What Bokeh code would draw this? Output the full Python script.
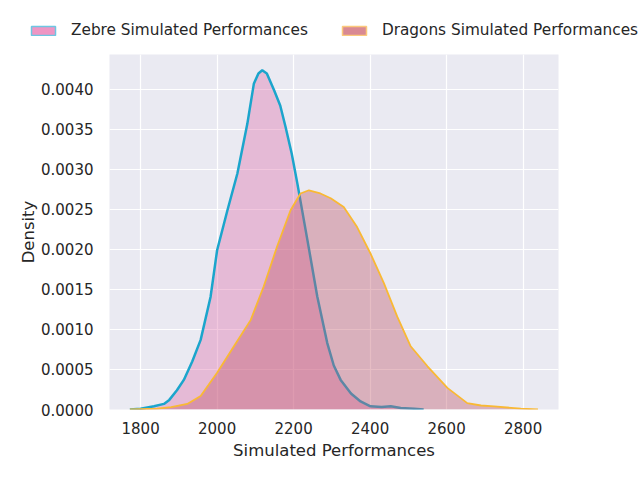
from bokeh.plotting import figure
from bokeh.layouts import column
from bokeh.models import Range1d, Legend, LegendItem, FixedTicker, ColumnDataSource
from bokeh.embed import file_html
from bokeh.resources import INLINE

# ---- data ----
zebre_x = [1772, 1800, 1835, 1861, 1875, 1895, 1913, 1935, 1957, 1983, 2000, 2027, 2053,
           2079, 2096, 2108, 2118, 2130, 2149, 2165, 2179, 2195, 2210, 2236, 2262, 2288,
           2305, 2323, 2350, 2375, 2401, 2430, 2454, 2480, 2515, 2540]
zebre_y = [0.0, 0.00001, 0.00004, 0.00007, 0.00012, 0.00024, 0.00037, 0.0006, 0.00087,
           0.00141, 0.00199, 0.00249, 0.00295, 0.00357, 0.00407, 0.0042, 0.00424, 0.0042,
           0.00399, 0.0038, 0.00353, 0.0032, 0.00282, 0.00212, 0.00141, 0.00083, 0.00055,
           0.00037, 0.0002, 0.0001, 0.00004, 0.00003, 0.00004, 0.00002, 0.00001, 0.0]

dragons_x = [1772, 1843, 1880, 1922, 1957, 2000, 2044, 2088, 2122, 2157, 2192, 2218, 2240,
             2270, 2297, 2331, 2366, 2401, 2436, 2471, 2506, 2550, 2602, 2654, 2690, 2724,
             2794, 2839]
dragons_y = [0.0, 0.00001, 0.00003, 0.00007, 0.00017, 0.00046, 0.00079, 0.00112, 0.00154,
             0.00204, 0.00249, 0.0027, 0.00274, 0.0027, 0.00264, 0.00253, 0.00228, 0.00195,
             0.00158, 0.00116, 0.00079, 0.00054, 0.00027, 0.00008, 0.00005, 0.00004,
             0.00001, 0.0]

series_names = ["Zebre Simulated Performances", "Dragons Simulated Performances"]
x_ticks = [1800, 2000, 2200, 2400, 2600, 2800]
y_ticks = [0.0, 0.0005, 0.001, 0.0015, 0.002, 0.0025, 0.003, 0.0035, 0.004]

FONT = "DejaVu Sans"
TXT = "#262626"

# ---- main plot ----
p = figure(width=640, height=410, output_backend="svg", toolbar_location=None,
           x_range=Range1d(1718.7, 2892.5), y_range=Range1d(0, 0.004437),
           min_border_left=109, min_border_right=82, min_border_top=0,
           min_border_bottom=55)
p.background_fill_color = "#EAEAF2"
p.border_fill_color = "white"
p.outline_line_color = None

p.xgrid.grid_line_color = "white"
p.ygrid.grid_line_color = "white"
p.xgrid.grid_line_width = 1.2
p.ygrid.grid_line_width = 1.2

for ax in (p.xaxis[0], p.yaxis[0]):
    ax.axis_line_color = None
    ax.major_tick_line_color = None
    ax.minor_tick_line_color = None
    ax.major_label_text_font = FONT
    ax.major_label_text_font_size = "15px"
    ax.major_label_text_color = TXT
    ax.axis_label_text_font = FONT
    ax.axis_label_text_font_size = "16.5px"
    ax.axis_label_text_color = TXT
    ax.axis_label_text_font_style = "normal"

p.xaxis.ticker = FixedTicker(ticks=x_ticks)
p.yaxis.ticker = FixedTicker(ticks=y_ticks)
p.xaxis.major_label_overrides = {t: str(t) for t in x_ticks}
p.yaxis.major_label_overrides = {t: f"{t:.4f}" for t in y_ticks}
p.xaxis.axis_label = "Simulated Performances"
p.yaxis.axis_label = "Density"
p.xaxis.major_label_standoff = 6
p.yaxis.major_label_standoff = 10
p.xaxis.axis_label_standoff = 4
p.yaxis.axis_label_standoff = 0

zs = ColumnDataSource(dict(x=zebre_x, y=zebre_y))
ds = ColumnDataSource(dict(x=dragons_x, y=dragons_y))

p.varea(x="x", y1=0, y2="y", source=zs, fill_color="#DE72AC", fill_alpha=0.4)
p.line(x="x", y="y", source=zs, line_color="#1BA5CC", line_width=2.5)
p.varea(x="x", y1=0, y2="y", source=ds, fill_color="#C0596B", fill_alpha=0.4)
p.line(x="x", y="y", source=ds, line_color="#F9B934", line_width=1.8)

# ---- legend strip above the plot ----
lg = figure(width=640, height=54, output_backend="svg", toolbar_location=None,
            x_axis_type=None, y_axis_type=None,
            x_range=Range1d(0, 1), y_range=Range1d(0, 1),
            min_border_left=0, min_border_right=0, min_border_top=0,
            min_border_bottom=0)
lg.outline_line_color = None
lg.background_fill_color = "white"
lg.border_fill_color = "white"
lg.xgrid.visible = False
lg.ygrid.visible = False
lg.frame_align = False
p.frame_align = False

# swatch renderers: the series data lies far outside this strip's ranges,
# so only their legend swatches are seen
rz = lg.patch(x="x", y="y", source=zs, fill_color="#EE96C4", line_color="#6EC6E2",
              line_width=1.5)
rd = lg.patch(x="x", y="y", source=ds, fill_color="#D98993", line_color="#FBC97C",
              line_width=1.5)

legend = Legend(items=[LegendItem(label=series_names[0], renderers=[rz]),
                       LegendItem(label=series_names[1], renderers=[rd])],
                orientation="horizontal", location=(28, 15))
legend.border_line_color = None
legend.background_fill_alpha = 0
legend.padding = 0
legend.margin = 0
legend.spacing = 31
legend.glyph_width = 30
legend.glyph_height = 11
legend.label_standoff = 13
legend.label_height = 15
legend.label_text_font = FONT
legend.label_text_font_size = "15.3px"
legend.label_text_color = TXT
lg.add_layout(legend, "center")

layout = column(lg, p, spacing=0)
open("out.html", "w").write(file_html(layout, INLINE))
